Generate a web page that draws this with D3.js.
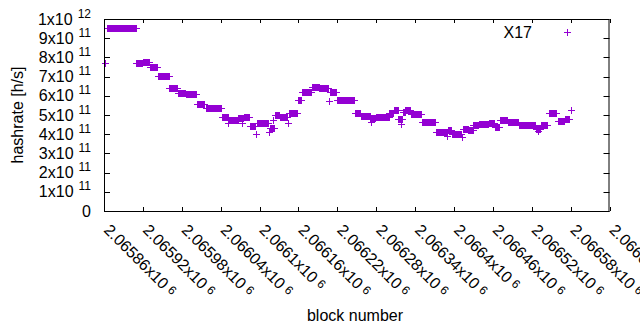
<!DOCTYPE html>
<html><head><meta charset="utf-8">
<script src="https://cdn.jsdelivr.net/npm/d3@7"></script>
<style>body{margin:0;background:#fff} text{font-family:"Liberation Sans",Arial,sans-serif;fill:#000}</style>
</head><body><svg id="c" width="640" height="330"></svg>
<script>
// runs of (nearly) constant hashrate, values in units of 1e11 h/s
const segStart = [2065864,2065910,2065920,2065931,2065943,2065961,2065974,2065986,2066004,2066017,2066042,2066052,2066067,2066076,2066085,2066096,2066116,2066124,2066131,2066146,2066160,2066165,2066181,2066192,2066208,2066220,2066247,2066256,2066271,2066279,2066300,2066307,2066314,2066321,2066325,2066333,2066351,2066373,2066391,2066397,2066414,2066422,2066430,2066438,2066454,2066463,2066471,2066483,2066500,2066527,2066534,2066546,2066560,2066571];
const segEnd   = [2065909,2065919,2065929,2065942,2065960,2065972,2065985,2066002,2066015,2066041,2066051,2066066,2066075,2066083,2066093,2066113,2066123,2066130,2066143,2066158,2066164,2066180,2066191,2066205,2066218,2066245,2066255,2066270,2066278,2066299,2066306,2066313,2066320,2066324,2066332,2066349,2066371,2066389,2066396,2066411,2066421,2066429,2066437,2066453,2066462,2066469,2066482,2066499,2066525,2066533,2066544,2066558,2066570,2066578];
const segValue = [9.52,7.69,7.75,7.48,7.01,6.39,6.13,6.08,5.56,5.35,4.87,4.73,4.83,4.88,4.45,4.58,4.31,4.98,4.91,5.09,5.77,6.20,6.48,6.39,6.18,5.78,5.09,4.97,4.85,4.91,5.09,5.24,4.79,5.16,5.24,5.05,4.62,4.14,4.20,4.00,4.29,4.20,4.48,4.53,4.58,4.39,4.72,4.65,4.50,4.27,4.48,5.09,4.70,4.79];
// isolated blocks
const singleBlock = [2065862,2066052,2066073,2066095,2066114,2066121,2066144,2066207,2066272,2066318,2066390,2066412,2066530,2066581];
const singleValue = [7.72,4.57,4.57,4.02,4.14,4.74,4.57,5.71,4.65,4.53,3.90,3.85,4.15,5.26];

const xTicks = [2065860,2065920,2065980,2066040,2066100,2066160,2066220,2066280,2066340,2066400,2066460,2066520,2066580,2066640];
const xTickLabels = ["2.06586","2.06592","2.06598","2.06604","2.0661","2.06616","2.06622","2.06628","2.06634","2.0664","2.06646","2.06652","2.06658","2.06664"];
const yTicks = [0,1,2,3,4,5,6,7,8,9,10];
const yTickMant = ["0","1","2","3","4","5","6","7","8","9","1"];
const yTickExp = ["","11","11","11","11","11","11","11","11","11","12"];
const seriesName = "X17";

const color = "#9400d3";
const L = 104, R = 609.5, T = 19, B = 211;
const svg = d3.select("#c");
const x = d3.scaleLinear().domain([2065860, 2066640]).range([L, R]);
const y = d3.scaleLinear().domain([0, 10]).range([B, T]);

// points
const pts = [];
segStart.forEach((s, i) => d3.range(s, segEnd[i] + 1).forEach(b => pts.push([b, segValue[i]])));
singleBlock.forEach((b, i) => pts.push([b, singleValue[i]]));
const plus = (cx, cy) => `M${cx-3.5},${cy}H${cx+3.5}M${cx},${cy-3.5}V${cy+3.5}`;
const gp = svg.append("g").attr("stroke", color).attr("stroke-width", 1).attr("fill", "none");
gp.selectAll("path").data(pts).join("path")
  .attr("d", d => plus(Math.round(x(d[0])) + 0.5, Math.round(y(d[1])) + 0.5));

// frame
const ga = svg.append("g").attr("stroke", "#000").attr("stroke-width", 1).attr("fill", "none");
ga.append("rect").attr("x", L + 0.5).attr("y", T + 0.5).attr("width", R - L - 1).attr("height", B - T);
yTicks.forEach(v => {
  const yy = Math.round(y(v)) + 0.5;
  ga.append("path").attr("d", `M${L},${yy}h6M${R},${yy}h-6`);
});
xTicks.forEach(v => {
  const xx = Math.round(x(v)) + 0.5;
  ga.append("path").attr("d", `M${xx},${B}v-4M${xx},${T}v4`);
});

// y labels
yTicks.forEach((v, i) => {
  const t = svg.append("text").attr("x", 91).attr("y", y(v) + 5.5)
    .attr("text-anchor", "end").attr("font-size", 16);
  t.append("tspan").text(yTickMant[i] + (yTickExp[i] ? "x10" : ""));
  if (yTickExp[i]) t.append("tspan").attr("dx", 5).attr("dy", -7).attr("font-size", 12).text(yTickExp[i]);
});

// x labels
xTicks.forEach((v, i) => {
  const xx = x(v) - 1, yy = 231;
  const t = svg.append("text").attr("transform", `translate(${xx},${yy}) rotate(45)`)
    .attr("font-size", 16);
  t.append("tspan").text(xTickLabels[i] + "x10");
  t.append("tspan").attr("dx", 4).attr("dy", -3).attr("font-size", 12).text("6");
});

// axis titles
svg.append("text").attr("transform", "translate(23,115) rotate(-90)")
  .attr("text-anchor", "middle").attr("font-size", 16).text("hashrate [h/s]");
svg.append("text").attr("x", 355).attr("y", 321)
  .attr("text-anchor", "middle").attr("font-size", 16).text("block number");

// legend
svg.append("text").attr("x", 532).attr("y", 37.5).attr("text-anchor", "end")
  .attr("font-size", 16).text(seriesName);
svg.append("path").attr("d", plus(567.5, 32.5)).attr("stroke", color).attr("fill", "none");
</script></body></html>
